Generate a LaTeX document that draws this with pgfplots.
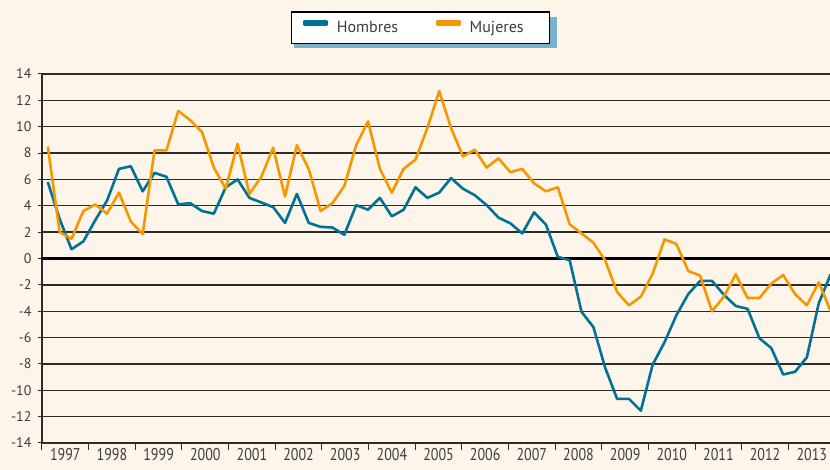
\documentclass[border=0pt]{standalone}
\usepackage{pgfplots}
\pgfplotsset{compat=1.18}
\usepackage{fontspec}
\setmainfont{PT Sans}
\definecolor{bgc}{RGB}{253,244,234}
\definecolor{hblue}{RGB}{0,114,150}
\definecolor{morange}{RGB}{245,152,0}
\definecolor{txt}{RGB}{60,60,60}
\definecolor{shad}{RGB}{120,178,205}
\definecolor{gridc}{RGB}{45,42,40}
\pgfdeclarelayer{bg}
\pgfsetlayers{bg,main}
\begin{document}
\begin{tikzpicture}
\begin{pgfonlayer}{bg}
\fill[bgc] (0,0) rectangle (830pt,470pt);
\fill[shad] (294pt,422pt) rectangle (557pt,453pt);
\end{pgfonlayer}
\path[use as bounding box] (0,0) rectangle (830pt,470pt);
\begin{axis}[
  at={(42pt,27pt)}, anchor=south west,
  scale only axis, width=788pt, height=369pt,
  xmin=-0.489, xmax=65.95, ymin=-14, ymax=14,
  axis x line*=bottom, axis y line*=left,
  axis line style={-, gridc, line width=1.3pt},
  tick align=outside,
  major tick length=4pt,
  ytick={-14,-12,-10,-8,-6,-4,-2,0,2,4,6,8,10,12,14},
  ytick style={gridc, line width=1pt},
  xtick={1.478,5.411,9.344,13.278,17.211,21.145,25.078,29.011,32.945,36.878,40.812,44.745,48.678,52.612,56.545,60.479,64.412},
  xticklabels={1997,1998,1999,2000,2001,2002,2003,2004,2005,2006,2007,2008,2009,2010,2011,2012,2013},
  xtick style={draw=none},
  extra x ticks={-0.489,3.444,7.378,11.311,15.245,19.178,23.111,27.045,30.978,34.912,38.845,42.778,46.712,50.645,54.579,58.512,62.445},
  extra x tick labels={},
  extra x tick style={major tick length=7pt, xtick style={draw=gridc, line width=1pt}},
  extra y ticks={0}, extra y tick labels={},
  extra y tick style={major grid style={black, line width=2.6pt}},
  ymajorgrids,
  major grid style={gridc, line width=1.3pt},
  /pgf/number format/assume math mode=true,
  ticklabel style={font=\fontsize{14}{16}\selectfont, text=txt},
  yticklabel style={xshift=-3pt},
  xticklabel style={yscale=1.22, yshift=2.5pt},
  legend columns=2,
  legend image code/.code={\fill (0pt,3pt) rectangle (22pt,7pt);},
  legend style={at={(0.4803,1.1247)}, anchor=center, draw=black, line width=1.2pt,
    fill=white, font=\fontsize{16}{18}\selectfont, text=txt,
    inner xsep=12pt, inner ysep=7.5pt,
    /tikz/every odd column/.append style={column sep=7pt},
    /tikz/every even column/.append style={column sep=36pt}},
]
\addplot[hblue, line width=2.6pt, line join=round] coordinates {
(0,5.8)(1,3.0)(2,0.7)(3,1.3)(4,2.9)(5,4.4)(6,6.8)(7,7.0)(8,5.1)(9,6.5)
(10,6.2)(11,4.1)(12,4.2)(13,3.6)(14,3.4)(15,5.4)(16,6.0)(17,4.6)(18,4.25)(19,3.9)
(20,2.7)(21,4.9)(22,2.7)(23,2.4)(24,2.35)(25,1.8)(26,4.05)(27,3.7)(28,4.6)(29,3.2)
(30,3.7)(31,5.4)(32,4.6)(33,5.0)(34,6.1)(35,5.3)(36,4.8)(37,4.05)(38,3.1)(39,2.67)
(40,1.9)(41,3.5)(42,2.57)(43,0.13)(44,-0.13)(45,-4.05)(46,-5.2)(47,-8.3)(48,-10.65)(49,-10.65)
(50,-11.55)(51,-8.05)(52,-6.35)(53,-4.3)(54,-2.7)(55,-1.7)(56,-1.7)(57,-2.75)(58,-3.6)(59,-3.82)
(60,-6.05)(61,-6.8)(62,-8.8)(63,-8.6)(64,-7.5)(65,-3.4)(66,-1.2)
};
\addlegendentry{Hombres}
\addplot[morange, line width=2.6pt, line join=round] coordinates {
(0,8.5)(1,2.0)(2,1.5)(3,3.6)(4,4.1)(5,3.4)(6,5.0)(7,2.8)(8,1.85)(9,8.2)
(10,8.2)(11,11.2)(12,10.5)(13,9.6)(14,6.9)(15,5.3)(16,8.7)(17,4.9)(18,6.2)(19,8.4)
(20,4.7)(21,8.6)(22,6.8)(23,3.6)(24,4.2)(25,5.5)(26,8.6)(27,10.4)(28,6.8)(29,5.0)
(30,6.8)(31,7.5)(32,9.9)(33,12.7)(34,9.9)(35,7.75)(36,8.25)(37,6.9)(38,7.6)(39,6.55)
(40,6.8)(41,5.7)(42,5.1)(43,5.4)(44,2.6)(45,1.9)(46,1.2)(47,-0.15)(48,-2.55)(49,-3.55)
(50,-2.9)(51,-1.15)(52,1.45)(53,1.1)(54,-0.95)(55,-1.3)(56,-4.0)(57,-2.9)(58,-1.2)(59,-3.0)
(60,-3.0)(61,-1.9)(62,-1.25)(63,-2.7)(64,-3.55)(65,-1.8)(66,-4.0)
};
\addlegendentry{Mujeres\hspace*{12pt}}
\end{axis}
\end{tikzpicture}
\end{document}
